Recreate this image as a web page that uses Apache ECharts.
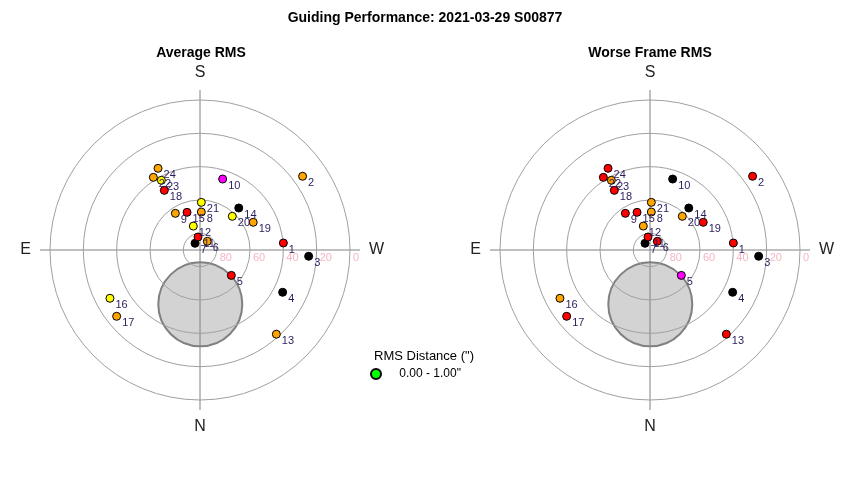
<!DOCTYPE html>
<html><head><meta charset="utf-8">
<script src="https://cdn.jsdelivr.net/npm/echarts@6/dist/echarts.min.js"></script>
<style>html,body{margin:0;padding:0;background:#fff}#c{width:850px;height:480px}</style>
</head><body><div id="c"></div>
<script>
// ---- data ----
const pointIds = [1,2,3,4,5,6,7,8,9,10,11,12,13,14,15,16,17,18,19,20,21,22,23,24];
const altitude = [39.8,14.2,24.7,34.3,65.8,83.2,85.0,67.2,63.5,45.3,82.1,75.1,21.8,55.7,66.1,28.7,26.1,48.3,54.0,62.0,61.4,38.2,42.2,34.9];
const azimuth  = [265.2,234.3,273.3,297.1,309.0,220.0,143.3,182.0,146.1,197.7,171.3,164.4,317.8,222.7,161.0,61.8,51.5,149.1,242.5,223.8,181.6,147.3,151.0,152.8];
// RMS class per frame: 0 green, 1 yellow, 2 orange, 3 red, 4 magenta, 5 black
const avgClass   = [3,2,5,5,3,2,5,2,2,4,3,1,2,5,3,1,2,3,2,1,1,2,1,2];
const worstClass = [3,3,5,5,4,3,5,2,3,5,3,2,3,5,3,2,3,3,3,2,2,3,2,3];
const moonAltitude = [57.4];
const moonAzimuth = [359.7];
const altitudeTicks = [0,20,40,60,80];
const compass = ['N','E','S','W'];
const legendLabels = ['0.00 - 1.00"'];
const legendTitle = 'RMS Distance (")';
const mainTitle = 'Guiding Performance: 2021-03-29 S00877';
const panelTitles = ['Average RMS','Worse Frame RMS'];

// ---- styles ----
const palette = ['#00ff00','#ffff00','#ffa500','#ff0000','#ff00ff','#000000'];
const FONT = 'Liberation Sans, Arial, sans-serif';
const centers = [[200,250],[650,250]];
const ang = a => (a >= 270 ? a - 360 : a);

const polar = [], angleAxis = [], radiusAxis = [], series = [];
centers.forEach((c, k) => {
  const crossIdx = polar.length;
  polar.push({center: c, radius: 160});
  const dataIdx = polar.length;
  polar.push({center: c, radius: 150});
  angleAxis.push({
    polarIndex: crossIdx, type: 'value', min: -90, max: 270, interval: 90,
    startAngle: 0, clockwise: true,
    axisLine: {show: false}, axisTick: {show: false},
    splitLine: {show: true, lineStyle: {color: '#808080', width: 1}},
    axisLabel: {
      formatter: v => compass[(((Math.round(v / 90)) % 4) + 4) % 4],
      fontSize: 16, color: '#222', margin: 9, fontFamily: FONT
    }
  });
  radiusAxis.push({polarIndex: crossIdx, type: 'value', min: 0, max: 1, show: false});
  angleAxis.push({
    polarIndex: dataIdx, type: 'value', min: -90, max: 270,
    startAngle: 0, clockwise: true, show: false
  });
  radiusAxis.push({
    polarIndex: dataIdx, type: 'value', min: 0, max: 90, interval: 20, inverse: true,
    axisLine: {show: false}, axisTick: {show: false},
    splitLine: {show: true, lineStyle: {color: '#a0a0a0', width: 1}},
    axisLabel: {
      formatter: v => (altitudeTicks.includes(v) ? String(v) : ''),
      color: '#f4b6c2', fontSize: 11, margin: -2, align: 'left', verticalAlign: 'top',
      padding: [0, 0, 0, 3], fontFamily: FONT
    },
    z: 1
  });
  series.push({
    type: 'scatter', coordinateSystem: 'polar', polarIndex: dataIdx,
    symbolSize: 84, silent: true, z: -1,
    itemStyle: {color: '#d3d3d3', borderColor: '#808080', borderWidth: 2, opacity: 1},
    data: moonAltitude.map((a, i) => [a, ang(moonAzimuth[i])])
  });
  const cls = k === 0 ? avgClass : worstClass;
  series.push({
    type: 'scatter', coordinateSystem: 'polar', polarIndex: dataIdx,
    symbolSize: 8, z: 3,
    itemStyle: {borderColor: '#000', borderWidth: 1, opacity: 1},
    label: {show: true, formatter: '{b}', position: 'right', distance: 1, offset: [0, 7],
            fontSize: 11, color: '#2b1d5c', fontFamily: FONT},
    emphasis: {disabled: true},
    data: pointIds.map((id, i) => ({
      name: String(id), value: [altitude[i], ang(azimuth[i])],
      itemStyle: {color: palette[cls[i]]}
    }))
  });
});
series.push({
  name: legendLabels[0], type: 'scatter', coordinateSystem: 'polar', polarIndex: 1,
  data: [], itemStyle: {color: palette[0], borderColor: '#000', borderWidth: 1, opacity: 1}
});

const chart = echarts.init(document.getElementById('c'));
chart.setOption({
  backgroundColor: '#fff',
  animation: false,
  textStyle: {fontFamily: FONT},
  title: [
    {text: mainTitle, left: 'center', top: 11, padding: 0,
     textStyle: {fontSize: 14, fontWeight: 'bold', color: '#000', fontFamily: FONT}},
    {text: panelTitles[0], left: 201, top: 46, textAlign: 'center', padding: 0,
     textStyle: {fontSize: 14, fontWeight: 'bold', color: '#000', fontFamily: FONT}},
    {text: panelTitles[1], left: 650, top: 46, textAlign: 'center', padding: 0,
     textStyle: {fontSize: 14, fontWeight: 'bold', color: '#000', fontFamily: FONT}},
    {text: legendTitle, left: 374, top: 350, padding: 0,
     textStyle: {fontSize: 13, fontWeight: 'normal', color: '#000', fontFamily: FONT}}
  ],
  legend: {
    data: legendLabels, left: 370, top: 368, padding: 0, icon: 'circle',
    itemWidth: 10, itemHeight: 10, selectedMode: false,
    formatter: n => '    ' + n,
    textStyle: {fontSize: 12, color: '#000', fontFamily: FONT}
  },
  polar, angleAxis, radiusAxis, series
});
</script></body></html>
